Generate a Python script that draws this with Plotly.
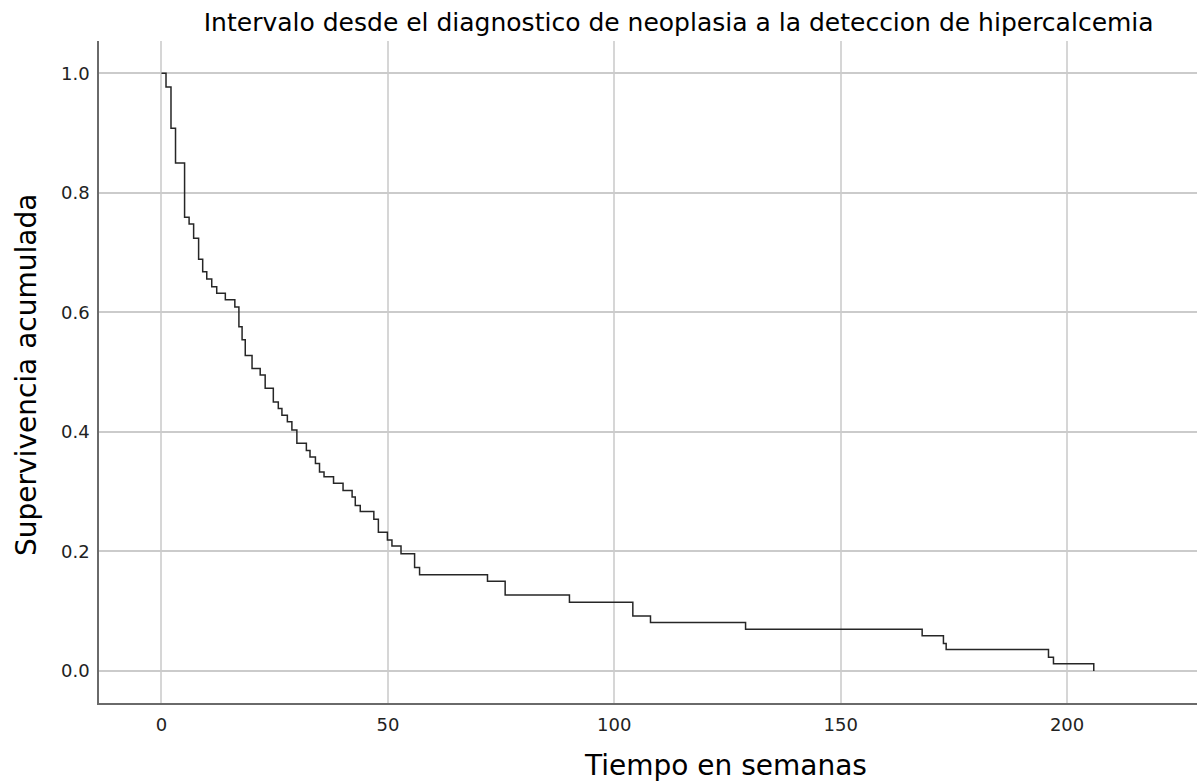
import plotly.graph_objects as go

# Kaplan-Meier estimate: event times (weeks) and cumulative survival after each event
weeks = [0, 1.0, 2.1, 3.1, 5.1, 6.1, 7.1, 8.2, 9.1, 10.0, 11.1, 12.2, 14.1, 16.2,
         17.1, 17.8, 18.5, 20.0, 21.8, 22.9, 24.7, 25.8, 26.6, 27.8, 28.8, 29.9,
         32.0, 32.8, 34.0, 34.9, 35.9, 38.0, 40.1, 42.1, 42.8, 43.9, 46.9, 47.9,
         49.9, 50.9, 52.9, 55.9, 57.0, 72.0, 75.9, 90.1, 104.1, 108.0, 129.0,
         168.0, 172.7, 173.3, 195.9, 197.0, 205.9]
survival = [1.0, 0.977, 0.908, 0.850, 0.759, 0.748, 0.724, 0.689, 0.668, 0.656,
            0.643, 0.632, 0.621, 0.609, 0.576, 0.554, 0.528, 0.506, 0.495, 0.473,
            0.450, 0.439, 0.428, 0.417, 0.403, 0.381, 0.369, 0.358, 0.347, 0.333,
            0.325, 0.314, 0.302, 0.291, 0.277, 0.267, 0.254, 0.232, 0.219, 0.209,
            0.196, 0.173, 0.161, 0.150, 0.127, 0.115, 0.092, 0.081, 0.070, 0.059,
            0.046, 0.036, 0.023, 0.012, 0.0]

x_ticks = [0, 50, 100, 150, 200]
y_ticks = [0.0, 0.2, 0.4, 0.6, 0.8, 1.0]
y_tick_labels = ["0.0", "0.2", "0.4", "0.6", "0.8", "1.0"]

title_text = "Intervalo desde el diagnostico de neoplasia a la deteccion de hipercalcemia"
x_title = "Tiempo en semanas"
y_title = "Supervivencia acumulada"

FONT = "DejaVu Sans"

fig = go.Figure()
fig.add_trace(go.Scatter(
    x=weeks, y=survival, mode="lines",
    line=dict(shape="hv", color="#262626", width=1.5),
    hoverinfo="x+y", showlegend=False,
))

fig.update_layout(
    width=1197, height=783,
    margin=dict(l=99, r=0, t=41, b=80),
    paper_bgcolor="white", plot_bgcolor="white",
    font=dict(family=FONT, color="#222222"),
    title=dict(text=title_text,
               font=dict(family=FONT, size=25, color="#000000"),
               xref="container", yref="container", x=0.567, xanchor="center",
               y=1 - 22 / 783, yanchor="middle"),
    xaxis=dict(range=[-13.8, 228.7], tickvals=x_ticks, showgrid=True,
               gridcolor="#d6d6d6", gridwidth=2, zeroline=False,
               showline=True, linecolor="#6a6a6a", linewidth=1.5,
               ticks="", tickfont=dict(family=FONT, size=18, color="#222222"),
               ticklabelstandoff=5),
    yaxis=dict(range=[-0.0536, 1.054], tickvals=y_ticks, ticktext=y_tick_labels,
               showgrid=True, gridcolor="#cbcbcb", gridwidth=1.5, zeroline=False,
               showline=True, linecolor="#6a6a6a", linewidth=1.5,
               ticks="", tickfont=dict(family=FONT, size=18, color="#222222"),
               ticklabelstandoff=4),
)

# Axis titles placed as annotations relative to the plot area
fig.add_annotation(text=x_title, xref="paper", yref="paper",
                   x=(725 - 99) / 1098, y=-(765 - 703) / 662,
                   xanchor="center", yanchor="middle", showarrow=False,
                   font=dict(family=FONT, size=28, color="#000000"))
fig.add_annotation(text=y_title, xref="paper", yref="paper",
                   x=-(99 - 26) / 1098, y=(703 - 375) / 662,
                   xanchor="center", yanchor="middle", showarrow=False,
                   textangle=-90,
                   font=dict(family=FONT, size=28, color="#000000"))

fig.write_html("out.html")
